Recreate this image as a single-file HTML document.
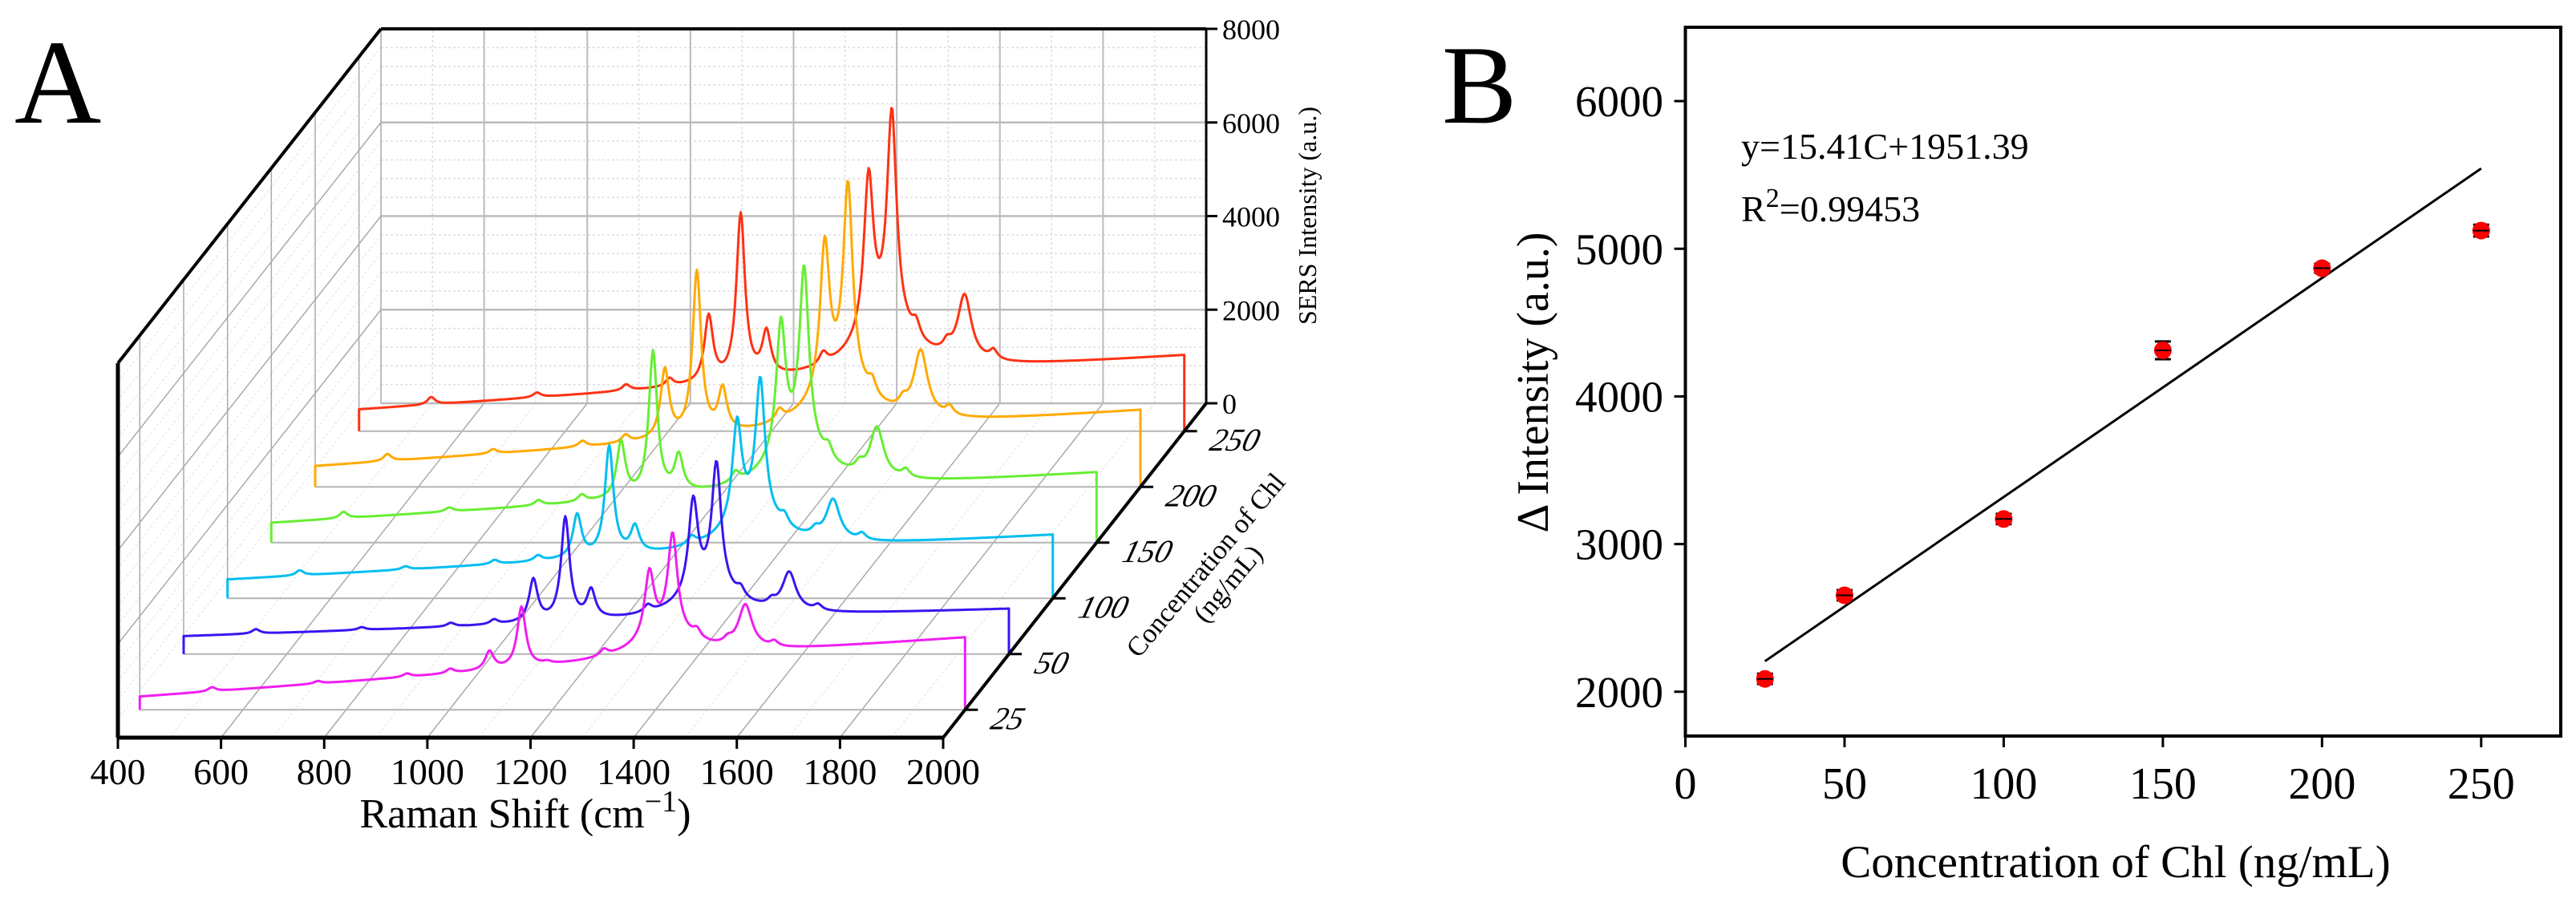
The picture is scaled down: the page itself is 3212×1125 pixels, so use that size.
<!DOCTYPE html>
<html><head><meta charset="utf-8"><style>
html,body{margin:0;padding:0;background:#fff;}
svg{display:block;font-family:"Liberation Serif",serif;}
</style></head><body>
<svg id="fig" width="3212" height="1125" viewBox="0 0 3212 1125" xmlns="http://www.w3.org/2000/svg">
<rect width="3212" height="1125" fill="#fff"/>
<g id="panelA"></g>
<g id="panelB"></g>
<text x="18" y="153" font-size="150">A</text>
<text x="1798" y="153" font-size="140">B</text>
</svg>
<script>
// ---------- Panel A data ----------
const concLabels = ['25','50','100','150','200','250'];
const seriesColors = ['#f01ef0','#3c14f0','#00bef0','#66ee33','#ffaa00','#ff3214'];
const peakCenters = [1078,1140,1190,1388,1433,1574];
const peakWidths = [10,10,10,11,11,16];
const peaks25  = [1230,2190,1000,2900,3700,2230];
const peaks50  = [1560,2890,1320,3220,4000,1730];
const peaks100 = [1750,3220,1490,3700,4600,2090];
const peaks150 = [2100,4040,1800,4590,5750,2430];
const peaks200 = [2450,4550,2020,5100,6340,2880];
const peaks250 = [2400,4590,2040,5340,6700,2870];
const baseStart = [280,380,400,420,440,460];
const baseEnd = [1540,960,1350,1490,1630,1610];
const minorCenters = [540,745,918,1002,1300,1480,1540,1630];
const minorAmps = [160,100,130,170,250,320,200,200];
const xTicks = [400,600,800,1000,1200,1400,1600,1800,2000];
const zTicks = [0,2000,4000,6000,8000];

// ---------- Panel B data ----------
const bConc = [25,50,100,150,200,250];
const bValues = [2087,2653,3170,4312,4868,5123];
const bErrors = [35,35,35,60,30,40];
const bXTicks = [0,50,100,150,200,250];
const bYTicks = [2000,3000,4000,5000,6000];
const fitSlope = [14.83];
const fitIntercept = [1836];

const NS='http://www.w3.org/2000/svg';
function mk(parent,tag,attrs){const e=document.createElementNS(NS,tag);for(const k in attrs)e.setAttribute(k,attrs[k]);parent.appendChild(e);return e;}

// ---------- Panel A ----------
const A=document.getElementById('panelA');
const X0=147,Y0=920,XW=1029,DX=328,DY=417,ZH=467;
function P(wn,d,z){return [X0+(wn-400)/1600*XW+d*DX, Y0-d*DY-z/8000*ZH];}
function depthOf(i){return (i+0.5)/6;}
function line(p,q,st,w,dash,name){
  const l=mk(A,'line',{x1:p[0],y1:p[1],x2:q[0],y2:q[1],stroke:st,'stroke-width':w});
  if(dash)l.setAttribute('stroke-dasharray',dash);
  
  
  return l;
}
for(let wn=500;wn<2000;wn+=100){if(wn%200)line(P(wn,1,0),P(wn,1,8000),'#ddd',1.5,'3,3','back-minor-vgrid');}
for(let z=400;z<8000;z+=400){if(z%2000)line(P(400,1,z),P(2000,1,z),'#ddd',1.5,'3,3','back-minor-hgrid');}
for(let wn=500;wn<2000;wn+=100){if(wn%200)line(P(wn,0,0),P(wn,1,0),'#e4e4e4',1.2,'3,3','floor-minor-grid');}
for(let z=400;z<8000;z+=400){if(z%2000)line(P(400,0,z),P(400,1,z),'#e4e4e4',1.2,'3,3','left-minor-grid');}
xTicks.forEach(wn=>{if(wn>400&&wn<2000){line(P(wn,1,0),P(wn,1,8000),'#bbb',2,null,'back-major-vgrid');line(P(wn,0,0),P(wn,1,0),'#aaa',1.5,null,'floor-major-grid');}});
zTicks.forEach(z=>{if(z>0&&z<8000){line(P(400,1,z),P(2000,1,z),'#bbb',2.5,null,'back-major-hgrid');line(P(400,0,z),P(400,1,z),'#aaa',1.5,null,'left-wall-grid');}});
line(P(400,1,0),P(2000,1,0),'#bbb',2.5,null,'back-floor-edge');
line(P(400,1,0),P(400,1,8000),'#aaa',1.5,null,'back-left-edge');
concLabels.forEach((c,i)=>{const d=depthOf(i);
  line(P(400,d,0),P(400,d,8000),'#aaa',1.5,null,'left-wall-depth-line');
  line(P(400,d,0),P(2000,d,0),'#b4b4b4',2,null,'floor-series-line');
});
const peakSets=[peaks25,peaks50,peaks100,peaks150,peaks200,peaks250];
function base(i,wn){return baseStart[i]+(baseEnd[i]-baseStart[i])*(wn-400)/1600;}
for(let i=5;i>=0;i--){
  const d=depthOf(i), pk=peakSets[i], sc=pk[4]/6700;
  const hump=0.15*pk[4];
  const amps=pk.map((h,k)=>h-base(i,peakCenters[k])-hump/(1+Math.pow((peakCenters[k]-1420)/70,2)));
  let pts=[];
  for(let wn=400;wn<=2000;wn+=2){
    let z=base(i,wn)+hump/(1+Math.pow((wn-1420)/70,2));
    peakCenters.forEach((c,k)=>{z+=amps[k]/(1+Math.pow((wn-c)/peakWidths[k],2));});
    minorCenters.forEach((c,k)=>{z+=minorAmps[k]*sc/(1+Math.pow((wn-c)/9,2));});
    pts.push(P(wn,d,z));
  }
  const s=P(400,d,0), e=P(2000,d,0);
  const all=[s].concat(pts).concat([e]);
  const pl=mk(A,'polyline',{points:all.map(p=>p[0].toFixed(1)+','+p[1].toFixed(1)).join(' '),fill:'none',stroke:seriesColors[i],'stroke-width':3,'stroke-linejoin':'round'});
  
  
}
line(P(400,0,0),P(2000,0,0),'#000',5,null,'x-axis');
line(P(400,0,0),P(400,0,8000),'#000',5,null,'front-left-edge');
line(P(400,0,8000),P(400,1,8000),'#000',4,null,'left-top-edge');
line(P(400,1,8000),P(2000,1,8000),'#000',4,null,'back-top-edge');
line(P(2000,1,0),P(2000,1,8000),'#000',3,null,'z-axis');
line(P(2000,0,0),P(2000,1,0),'#000',4,null,'depth-axis');
xTicks.forEach(wn=>{const p=P(wn,0,0);line(p,[p[0],p[1]+14],'#000',3,null,'x-tick');
  const t=mk(A,'text',{x:p[0],y:p[1]+58,'font-size':46,'text-anchor':'middle'});t.textContent=wn;
  });
zTicks.forEach(z=>{const p=P(2000,1,z);line(p,[p[0]+14,p[1]],'#000',3,null,'z-tick');
  const t=mk(A,'text',{x:p[0]+20,y:p[1]+13,'font-size':36});t.textContent=z;
  });
concLabels.forEach((c,i)=>{const p=P(2000,depthOf(i),0);line(p,[p[0]+16,p[1]],'#000',3,null,'depth-tick');
  const t=mk(A,'text',{x:0,y:0,'font-size':40,'font-style':'italic'});
  t.setAttribute('transform','translate('+(p[0]+30)+','+(p[1]+24)+') skewX(-15)');
  t.textContent=c;});
{const t=mk(A,'text',{x:0,y:0,'font-size':32,'text-anchor':'middle',transform:'translate(1641,269) rotate(-90)'});t.textContent='SERS Intensity (a.u.)';
 }
{const g=mk(A,'text',{x:655,y:1032,'font-size':52,'text-anchor':'middle'});
 g.innerHTML='Raman Shift (cm<tspan dy="-20" font-size="38">−1</tspan><tspan dy="20">)</tspan>';
 }
{const g=mk(A,'text',{'font-size':34,'text-anchor':'middle',transform:'translate(1512,712) rotate(-50)'});
 g.innerHTML='<tspan x="0" y="0">Concentration of Chl</tspan><tspan x="0" y="36">(ng/mL)</tspan>';
 }

// ---------- Panel B ----------
const B=document.getElementById('panelB');
const BL=2101.5,BR=3193,BT=34,BB=918;
function bx(c){return BL+(c-0)/275*(BR-BL);}
function by(v){return BB-(v-1700)/4800*(BB-BT);}
const frame=mk(B,'rect',{x:BL,y:BT,width:BR-BL,height:BB-BT,fill:'none',stroke:'#000','stroke-width':4});

bXTicks.forEach(c=>{const l=mk(B,'line',{x1:bx(c),y1:BB,x2:bx(c),y2:BB+14,stroke:'#000','stroke-width':3});
  
  const t=mk(B,'text',{x:bx(c),y:996,'font-size':56,'text-anchor':'middle'});t.textContent=c;
  });
bYTicks.forEach(v=>{const l=mk(B,'line',{x1:BL-14,y1:by(v),x2:BL,y2:by(v),stroke:'#000','stroke-width':3});
  
  const t=mk(B,'text',{x:2074,y:by(v)+19,'font-size':55,'text-anchor':'end'});t.textContent=v;
  });
{const t=mk(B,'text',{x:0,y:0,'font-size':56,'text-anchor':'middle',transform:'translate(1930,477) rotate(-90)'});t.textContent='Δ Intensity (a.u.)';
 }
{const t=mk(B,'text',{x:2638,y:1094,'font-size':57,'text-anchor':'middle'});t.textContent='Concentration of Chl (ng/mL)';
 }
{const fl=mk(B,'line',{x1:bx(bConc[0]),y1:by(fitSlope[0]*bConc[0]+fitIntercept[0]),x2:bx(bConc[5]),y2:by(fitSlope[0]*bConc[5]+fitIntercept[0]),stroke:'#000','stroke-width':3});
 }
bConc.forEach((c,i)=>{const x=bx(c),v=bValues[i],e=bErrors[i];
  const g=mk(B,'g',{});
  mk(g,'line',{x1:x,y1:by(v+e),x2:x,y2:by(v-e),stroke:'#000','stroke-width':3});
  mk(g,'line',{x1:x-10,y1:by(v+e),x2:x+10,y2:by(v+e),stroke:'#000','stroke-width':3});
  mk(g,'line',{x1:x-10,y1:by(v-e),x2:x+10,y2:by(v-e),stroke:'#000','stroke-width':3});
  mk(g,'circle',{cx:x,cy:by(v),r:11,fill:'#ff0000'});
  mk(g,'line',{x1:x-10,y1:by(v),x2:x+10,y2:by(v),stroke:'#000','stroke-width':2});
});
{const t=mk(B,'text',{x:2171,y:198,'font-size':46});t.textContent='y=15.41C+1951.39';
 }
{const t=mk(B,'text',{x:2171,y:276,'font-size':46});t.innerHTML='R<tspan dy="-18" font-size="34">2</tspan><tspan dy="18">=0.99453</tspan>';
 }
</script>
</body></html>
